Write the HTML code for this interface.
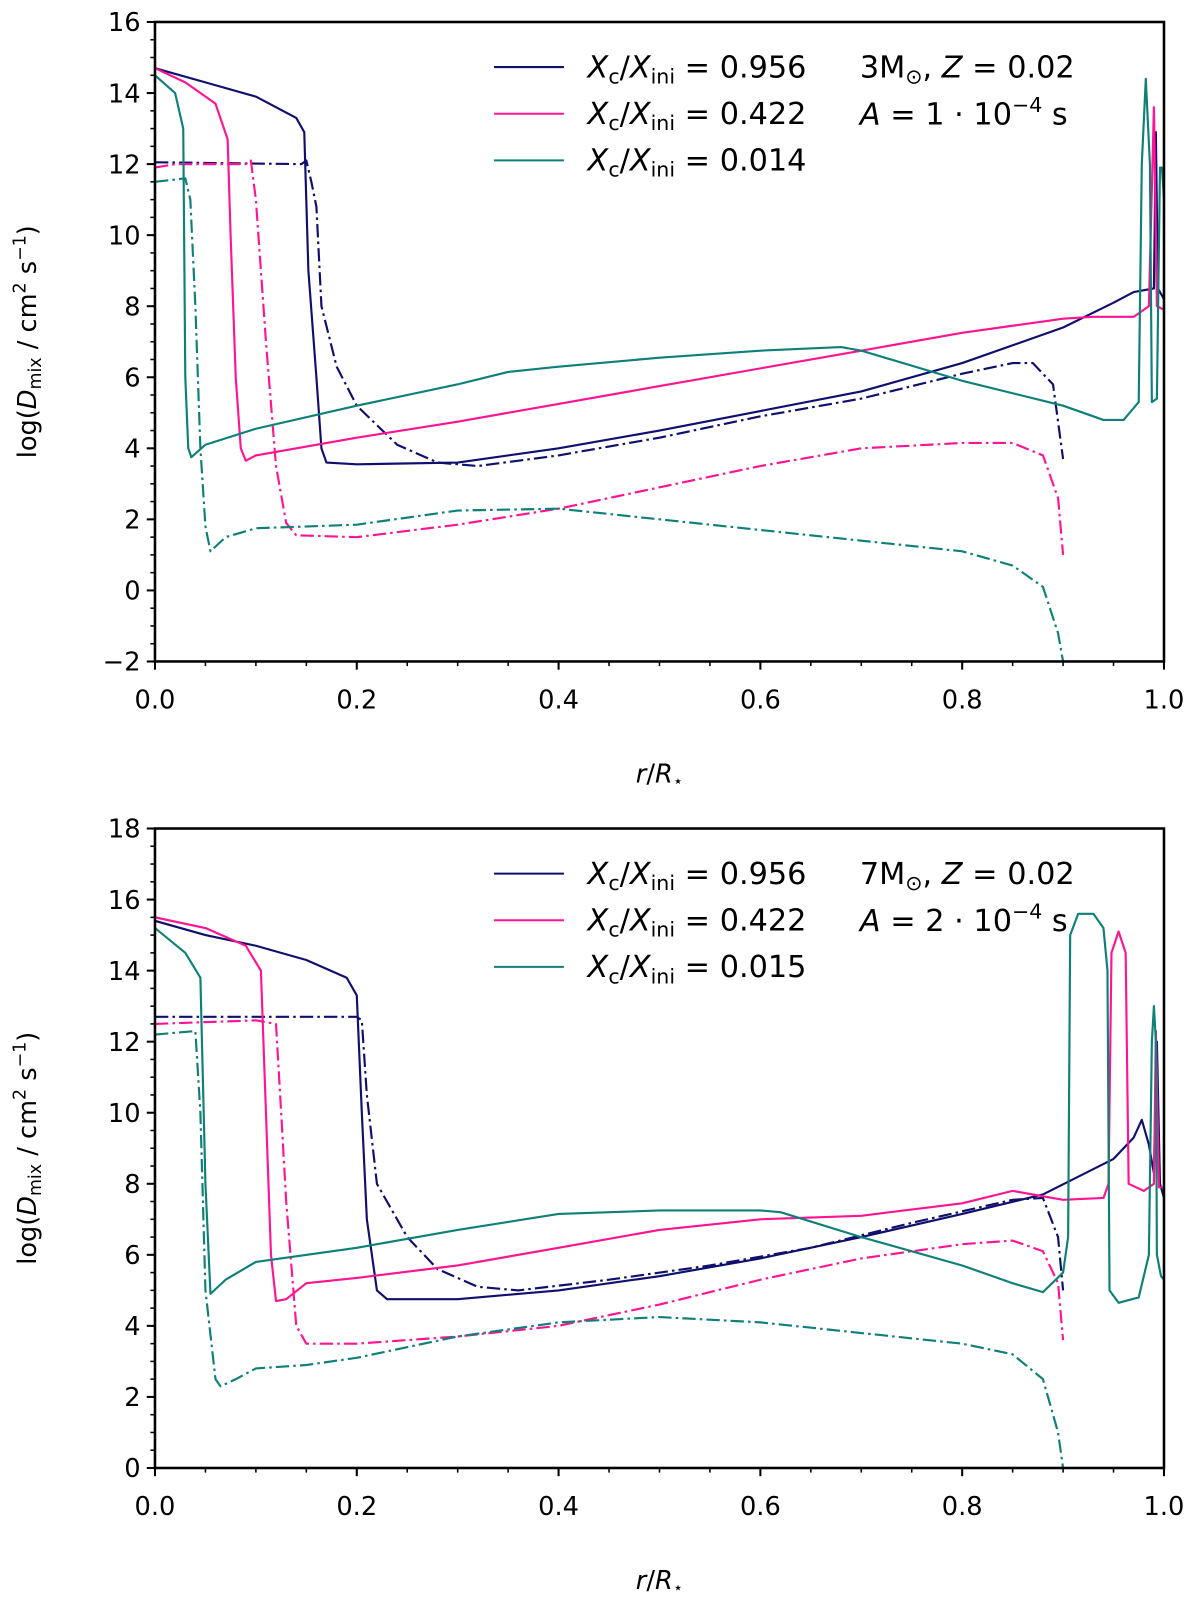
<!DOCTYPE html>
<html><head><meta charset="utf-8"><style>
body{margin:0;background:#fff}
svg text{font-family:"DejaVu Sans","Liberation Sans",sans-serif;fill:#000}
</style></head><body>
<svg width="1200" height="1605" viewBox="0 0 1200 1605" xmlns="http://www.w3.org/2000/svg"><g id="fig" transform="matrix(1.0275,0,0,1.0248,-1.2,-2.6)"></g></svg>
<script>
// ---- data: [r/R, logD] ----
const topNavySolid=[[0,14.7],[0.05,14.3],[0.1,13.9],[0.14,13.3],[0.148,12.9],[0.152,9],[0.16,6],[0.165,4],[0.17,3.6],[0.2,3.55],[0.3,3.6],[0.4,4.0],[0.5,4.5],[0.6,5.05],[0.7,5.6],[0.8,6.4],[0.9,7.4],[0.95,8.1],[0.97,8.4],[0.99,8.5],[0.992,12.9],[0.994,8.5],[1,8.2]];
const topNavyDash=[[0,12.05],[0.145,12.0],[0.15,12.1],[0.155,11.5],[0.16,10.8],[0.165,8],[0.18,6.3],[0.2,5.2],[0.24,4.1],[0.28,3.6],[0.32,3.5],[0.4,3.8],[0.5,4.3],[0.6,4.9],[0.7,5.4],[0.8,6.1],[0.85,6.4],[0.87,6.4],[0.89,5.8],[0.9,3.7]];
const topPinkSolid=[[0,14.7],[0.03,14.3],[0.06,13.7],[0.072,12.7],[0.075,10],[0.08,6],[0.085,4],[0.09,3.65],[0.1,3.8],[0.2,4.3],[0.3,4.75],[0.4,5.25],[0.5,5.75],[0.6,6.25],[0.7,6.75],[0.8,7.25],[0.9,7.65],[0.93,7.7],[0.97,7.7],[0.985,8],[0.99,13.6],[0.993,8],[1,7.9]];
const topPinkDash=[[0,11.9],[0.02,12],[0.09,12],[0.095,12.1],[0.1,11],[0.11,7],[0.12,3.5],[0.13,1.9],[0.14,1.55],[0.2,1.5],[0.3,1.85],[0.4,2.3],[0.5,2.9],[0.6,3.5],[0.7,4.0],[0.8,4.15],[0.85,4.15],[0.88,3.8],[0.895,2.6],[0.9,1.0]];
const topTealSolid=[[0,14.5],[0.02,14.0],[0.028,13],[0.03,6],[0.033,4],[0.036,3.75],[0.05,4.1],[0.1,4.55],[0.2,5.2],[0.3,5.8],[0.35,6.15],[0.4,6.3],[0.5,6.55],[0.6,6.75],[0.68,6.85],[0.7,6.75],[0.8,5.9],[0.9,5.2],[0.94,4.8],[0.96,4.8],[0.975,5.3],[0.978,12],[0.982,14.4],[0.986,12],[0.988,5.3],[0.993,5.4],[0.996,11.9],[0.998,11.9],[1,11]];
const topTealDash=[[0,11.5],[0.03,11.6],[0.035,11],[0.04,8],[0.045,4],[0.05,1.8],[0.055,1.1],[0.07,1.5],[0.1,1.75],[0.2,1.85],[0.3,2.25],[0.4,2.3],[0.5,2.0],[0.6,1.7],[0.7,1.4],[0.8,1.1],[0.85,0.7],[0.88,0.1],[0.895,-1.2],[0.9,-2]];
const botNavySolid=[[0,15.4],[0.05,15],[0.1,14.7],[0.15,14.3],[0.19,13.8],[0.2,13.3],[0.205,10],[0.21,7],[0.22,5],[0.23,4.75],[0.3,4.75],[0.4,5],[0.5,5.4],[0.6,5.9],[0.7,6.5],[0.8,7.15],[0.88,7.7],[0.95,8.7],[0.97,9.3],[0.978,9.8],[0.985,9.1],[0.99,8.3],[0.993,12],[0.996,8],[1,7.6]];
const botNavyDash=[[0,12.7],[0.2,12.7],[0.205,12.6],[0.21,10.5],[0.22,8],[0.25,6.5],[0.28,5.6],[0.32,5.1],[0.36,5.0],[0.45,5.3],[0.55,5.7],[0.65,6.2],[0.75,6.9],[0.85,7.55],[0.88,7.6],[0.895,6.5],[0.9,5]];
const botPinkSolid=[[0,15.5],[0.05,15.2],[0.09,14.7],[0.105,14],[0.11,10],[0.115,6],[0.12,4.7],[0.13,4.75],[0.15,5.2],[0.2,5.35],[0.3,5.7],[0.4,6.2],[0.5,6.7],[0.6,7.0],[0.7,7.1],[0.8,7.45],[0.85,7.8],[0.9,7.55],[0.94,7.6],[0.945,8],[0.948,14.5],[0.955,15.1],[0.962,14.5],[0.965,8],[0.98,7.8],[0.99,8],[0.992,12.3],[0.995,7.9],[1,7.9]];
const botPinkDash=[[0,12.5],[0.1,12.6],[0.12,12.5],[0.125,10],[0.13,7.5],[0.14,4],[0.15,3.5],[0.2,3.5],[0.3,3.7],[0.4,4.0],[0.5,4.6],[0.6,5.3],[0.7,5.9],[0.8,6.3],[0.85,6.4],[0.88,6.1],[0.895,5.2],[0.9,3.6]];
const botTealSolid=[[0,15.2],[0.03,14.5],[0.045,13.8],[0.05,8],[0.055,4.9],[0.07,5.3],[0.1,5.8],[0.2,6.2],[0.3,6.7],[0.4,7.15],[0.5,7.25],[0.6,7.25],[0.62,7.2],[0.7,6.5],[0.8,5.7],[0.85,5.2],[0.88,4.95],[0.9,5.5],[0.905,6.5],[0.907,15],[0.915,15.6],[0.93,15.6],[0.94,15.2],[0.944,14],[0.946,5],[0.955,4.65],[0.975,4.8],[0.985,6],[0.988,12],[0.99,13],[0.992,12],[0.993,6],[0.997,5.4],[1,5.3]];
const botTealDash=[[0,12.2],[0.04,12.3],[0.045,10],[0.05,5],[0.06,2.5],[0.065,2.3],[0.08,2.5],[0.1,2.8],[0.15,2.9],[0.2,3.1],[0.3,3.7],[0.4,4.1],[0.5,4.25],[0.6,4.1],[0.7,3.8],[0.8,3.5],[0.85,3.2],[0.88,2.5],[0.895,1],[0.9,0]];
const xTicks=[0,0.2,0.4,0.6,0.8,1.0];
const xTickLabels=["0.0","0.2","0.4","0.6","0.8","1.0"];
const topYTicks=[-2,0,2,4,6,8,10,12,14,16];
const botYTicks=[0,2,4,6,8,10,12,14,16,18];
const topLegendValues=["0.956","0.422","0.014"];
const botLegendValues=["0.956","0.422","0.015"];

const NS="http://www.w3.org/2000/svg";
const svg=document.getElementById('fig');
const NAVY="#0f0f6e",PINK="#ff1493",TEAL="#0e8078";
function el(tag,attrs,parent){const e=document.createElementNS(NS,tag);for(const k in attrs)e.setAttribute(k,attrs[k]);(parent||svg).appendChild(e);return e;}

function panel(id,top,ymin,ymax,yTicks,series,legVals,massTxt,aTxt){
  const L=152,R=1134,T=top,B=top+624;
  const X=v=>L+v*(R-L), Y=v=>B-(v-ymin)/(ymax-ymin)*(B-T);
  const g=el('g',{});
  
  
  const cp=el('clipPath',{id:id+'clip'},g);el('rect',{x:L,y:T,width:R-L,height:B-T},cp);
  const sg=el('g',{'clip-path':'url(#'+id+'clip)'},g);
  series.forEach(s=>{
    const p=el('polyline',{points:s.d.map(q=>X(q[0]).toFixed(1)+','+Y(q[1]).toFixed(1)).join(' '),fill:'none',stroke:s.c,'stroke-width':2.1,'stroke-linejoin':'round'},sg);
    if(s.dash)p.setAttribute('stroke-dasharray','13,4,2.5,4');
    
    
  });
  const fr=el('rect',{x:L,y:T,width:R-L,height:B-T,fill:'none',stroke:'#000','stroke-width':2.5},g);
  
  
  for(let i=0;i<=20;i++){const v=i*0.05,x=X(v),maj=i%4==0;el('line',{x1:x,x2:x,y1:B,y2:B+(maj?8:4.5),stroke:'#000','stroke-width':maj?2:1.5},g);}
  xTicks.forEach((v,i)=>{const t=el('text',{x:X(v),y:B+46,'font-size':25,'text-anchor':'middle'},g);t.textContent=xTickLabels[i];
    });
  for(let v=ymin;v<=ymax+1e-9;v+=0.5){const y=Y(v),maj=Math.abs(v%2)<1e-9;el('line',{x1:L,x2:L-(maj?8:4.5),y1:y,y2:y,stroke:'#000','stroke-width':maj?2:1.5},g);}
  yTicks.forEach(v=>{const t=el('text',{x:L-14,y:Y(v)+9,'font-size':25,'text-anchor':'end'},g);t.textContent=(v<0?'\u2212'+(-v):''+v);
    });
  const xl=el('text',{x:(L+R)/2,y:B+118,'font-size':25,'text-anchor':'middle'},g);
  xl.innerHTML='<tspan font-style="italic">r</tspan>/<tspan font-style="italic">R</tspan><tspan font-size="16" dy="4">\u22c6</tspan>';
  
  const yl=el('text',{transform:`translate(36,${(T+B)/2}) rotate(-90)`,'font-size':25,'text-anchor':'middle'},g);
  yl.innerHTML='log(<tspan font-style="italic">D</tspan><tspan font-size="17" dy="5">mix</tspan><tspan dy="-5"> / cm</tspan><tspan font-size="17" dy="-10">2</tspan><tspan dy="10"> s</tspan><tspan font-size="17" dy="-10">\u22121</tspan><tspan dy="10">)</tspan>';
  
  [NAVY,PINK,TEAL].forEach((c,i)=>{const y=T+44+i*45.5;
    const ln=el('line',{x1:482,x2:550,y1:y,y2:y,stroke:c,'stroke-width':2},g);
    
    const t=el('text',{x:573,y:y+10,'font-size':29.5},g);
    t.innerHTML='<tspan font-style="italic">X</tspan><tspan font-size="20" dy="6">c</tspan><tspan dy="-6">/</tspan><tspan font-style="italic">X</tspan><tspan font-size="20" dy="6">ini</tspan><tspan dy="-6"> = '+legVals[i]+'</tspan>';
    });
  const m=el('text',{x:838,y:T+54,'font-size':29.5},g);m.innerHTML=massTxt;
  
  const a=el('text',{x:838,y:T+100,'font-size':29.5},g);a.innerHTML=aTxt;
  
}
panel('top',24,-2,16,topYTicks,[
 {d:topNavySolid,c:NAVY,n:'navy-solid-0956'},{d:topNavyDash,c:NAVY,dash:1,n:'navy-dashdot-0956'},
 {d:topPinkSolid,c:PINK,n:'pink-solid-0422'},{d:topPinkDash,c:PINK,dash:1,n:'pink-dashdot-0422'},
 {d:topTealSolid,c:TEAL,n:'teal-solid-0014'},{d:topTealDash,c:TEAL,dash:1,n:'teal-dashdot-0014'}],
 topLegendValues,'3M<tspan font-size="20" dy="6">\u2299</tspan><tspan dy="-6">, </tspan><tspan font-style="italic">Z</tspan> = 0.02',
 '<tspan font-style="italic">A</tspan> = 1 \u00b7 10<tspan font-size="20" dy="-12">\u22124</tspan><tspan dy="12"> s</tspan>');
panel('bot',811,0,18,botYTicks,[
 {d:botNavySolid,c:NAVY,n:'navy-solid-0956'},{d:botNavyDash,c:NAVY,dash:1,n:'navy-dashdot-0956'},
 {d:botPinkSolid,c:PINK,n:'pink-solid-0422'},{d:botPinkDash,c:PINK,dash:1,n:'pink-dashdot-0422'},
 {d:botTealSolid,c:TEAL,n:'teal-solid-0015'},{d:botTealDash,c:TEAL,dash:1,n:'teal-dashdot-0015'}],
 botLegendValues,'7M<tspan font-size="20" dy="6">\u2299</tspan><tspan dy="-6">, </tspan><tspan font-style="italic">Z</tspan> = 0.02',
 '<tspan font-style="italic">A</tspan> = 2 \u00b7 10<tspan font-size="20" dy="-12">\u22124</tspan><tspan dy="12"> s</tspan>');
</script>
</body></html>
